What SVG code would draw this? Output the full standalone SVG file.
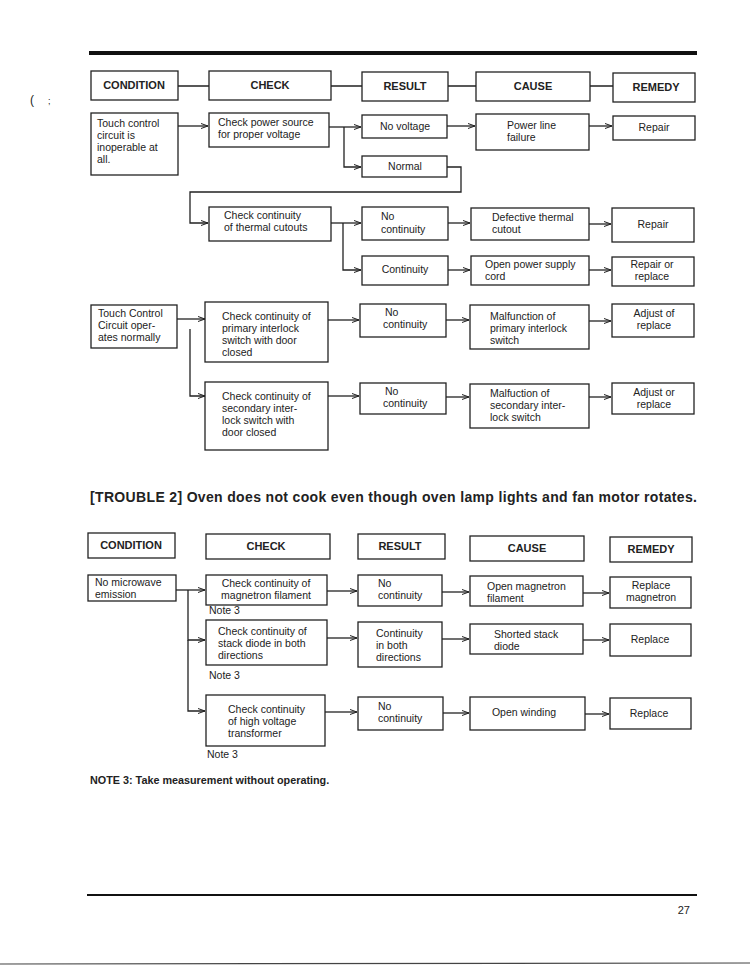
<svg xmlns="http://www.w3.org/2000/svg" width="750" height="970" viewBox="0 0 750 970">
<defs>
<marker id="ah" markerWidth="8" markerHeight="6" refX="7" refY="3" orient="auto" markerUnits="userSpaceOnUse">
<path d="M0,0.5 L7,3 L0,5.5" fill="none" stroke="#222" stroke-width="1"/>
</marker>
</defs>
<style>
rect{fill:#fff;stroke:#222;stroke-width:1.3}
text{font-family:"Liberation Sans",Arial,sans-serif;font-size:10.5px;fill:#222}
.h{font-weight:bold;font-size:11px;text-anchor:middle}
.c{text-anchor:middle}
.ln{fill:none;stroke:#222;stroke-width:1.3}
.ar{fill:none;stroke:#222;stroke-width:1.3;marker-end:url(#ah)}
.t{font-weight:bold;font-size:12px}
</style>
<rect x="0" y="0" width="750" height="970" style="fill:#fff;stroke:none"/>
<line x1="89" y1="53" x2="697" y2="53" stroke="#111" stroke-width="4"/>
<text x="30" y="104" style="font-size:12px">(</text>
<text x="48" y="104" style="font-size:9px">;</text>

<g id="connectors">
<path class="ln" d="M178,86 H209 M331,86 H362 M448,86 H476 M590,86 H613"/>
<path class="ar" d="M178,126 H208"/>
<path class="ar" d="M329,127 H361"/>
<path class="ar" d="M344,127 V167 H361"/>
<path class="ar" d="M447,126 H475"/>
<path class="ar" d="M589,126 H612"/>
<path class="ar" d="M447,167 H461 V192 H190 V223 H208"/>
<path class="ar" d="M331,223 H361"/>
<path class="ar" d="M343,223 V270 H361"/>
<path class="ar" d="M448,223 H470"/>
<path class="ar" d="M589,224 H611"/>
<path class="ar" d="M448,270 H470"/>
<path class="ar" d="M589,270 H611"/>
<path class="ar" d="M177,319 H205"/>
<path class="ar" d="M190,329 V396 H205"/>
<path class="ar" d="M328,320 H359"/>
<path class="ar" d="M446,320 H469"/>
<path class="ar" d="M589,321 H611"/>
<path class="ar" d="M328,396 H359"/>
<path class="ar" d="M446,397 H469"/>
<path class="ar" d="M589,397 H611"/>
<path class="ar" d="M176,590 H205"/>
<path class="ar" d="M188,590 V640 H205"/>
<path class="ar" d="M188,640 V711 H205"/>
<path class="ar" d="M327,591 H357"/>
<path class="ar" d="M442,592 H469"/>
<path class="ar" d="M583,593 H609"/>
<path class="ar" d="M327,638 H357"/>
<path class="ar" d="M442,639 H469"/>
<path class="ar" d="M583,640 H609"/>
<path class="ar" d="M325,712 H357"/>
<path class="ar" d="M443,713 H469"/>
<path class="ar" d="M585,714 H609"/>
</g>

<g id="h1-condition"><rect x="91" y="71" width="87" height="29"/><text class="h" x="134" y="89">CONDITION</text></g>
<g id="h1-check"><rect x="209" y="71" width="122" height="29"/><text class="h" x="270" y="89">CHECK</text></g>
<g id="h1-result"><rect x="362" y="72" width="86" height="29"/><text class="h" x="405" y="90">RESULT</text></g>
<g id="h1-cause"><rect x="476" y="72" width="114" height="29"/><text class="h" x="533" y="90">CAUSE</text></g>
<g id="h1-remedy"><rect x="613" y="73" width="82" height="29"/><text class="h" x="656" y="91">REMEDY</text></g>

<g id="cond1"><rect x="91" y="113" width="87" height="62"/>
<text x="97" y="127">Touch control</text><text x="97" y="139">circuit is</text><text x="97" y="151">inoperable at</text><text x="97" y="163">all.</text></g>
<g id="chk-power"><rect x="209" y="113" width="120" height="34"/>
<text x="218" y="126">Check power source</text><text x="218" y="138">for proper voltage</text></g>
<g id="res-novolt"><rect x="362" y="115" width="85" height="23"/><text class="c" x="405" y="130">No voltage</text></g>
<g id="cause-powerline"><rect x="476" y="114" width="113" height="36"/>
<text x="507" y="129">Power line</text><text x="507" y="141">failure</text></g>
<g id="rem-repair1"><rect x="613" y="116" width="82" height="24"/><text class="c" x="654" y="131">Repair</text></g>
<g id="res-normal"><rect x="362" y="156" width="85" height="21"/><text class="c" x="405" y="170">Normal</text></g>

<g id="chk-thermal"><rect x="209" y="207" width="122" height="34"/>
<text x="224" y="219">Check continuity</text><text x="224" y="231">of thermal cutouts</text></g>
<g id="res-nocont1"><rect x="362" y="207" width="86" height="33"/>
<text x="381" y="220">No</text><text x="381" y="233">continuity</text></g>
<g id="cause-thermal"><rect x="471" y="208" width="118" height="32"/>
<text x="492" y="221">Defective thermal</text><text x="492" y="233">cutout</text></g>
<g id="rem-repair2"><rect x="612" y="208" width="82" height="34"/><text class="c" x="653" y="228">Repair</text></g>
<g id="res-cont"><rect x="362" y="256" width="86" height="29"/><text class="c" x="405" y="273">Continuity</text></g>
<g id="cause-cord"><rect x="471" y="256" width="118" height="29"/>
<text x="485" y="268">Open power supply</text><text x="485" y="280">cord</text></g>
<g id="rem-repairrepl"><rect x="612" y="257" width="82" height="29"/>
<text class="c" x="652" y="268">Repair or</text><text class="c" x="652" y="280">replace</text></g>

<g id="cond2"><rect x="91" y="305" width="86" height="43"/>
<text x="98" y="317">Touch Control</text><text x="98" y="329">Circuit oper-</text><text x="98" y="341">ates normally</text></g>
<g id="chk-primary"><rect x="205" y="302" width="123" height="60"/>
<text x="222" y="320">Check continuity of</text><text x="222" y="332">primary interlock</text><text x="222" y="344">switch with door</text><text x="222" y="356">closed</text></g>
<g id="res-nocont2"><rect x="360" y="304" width="86" height="33"/>
<text x="385" y="316">No</text><text x="383" y="328">continuity</text></g>
<g id="cause-primary"><rect x="470" y="305" width="119" height="44"/>
<text x="490" y="320">Malfunction of</text><text x="490" y="332">primary interlock</text><text x="490" y="344">switch</text></g>
<g id="rem-adjust1"><rect x="612" y="304" width="82" height="33"/>
<text class="c" x="654" y="317">Adjust of</text><text class="c" x="654" y="329">replace</text></g>

<g id="chk-secondary"><rect x="205" y="382" width="123" height="68"/>
<text x="222" y="400">Check continuity of</text><text x="222" y="412">secondary inter-</text><text x="222" y="424">lock switch with</text><text x="222" y="436">door closed</text></g>
<g id="res-nocont3"><rect x="360" y="383" width="86" height="31"/>
<text x="385" y="395">No</text><text x="383" y="407">continuity</text></g>
<g id="cause-secondary"><rect x="470" y="384" width="119" height="44"/>
<text x="490" y="397">Malfuction of</text><text x="490" y="409">secondary inter-</text><text x="490" y="421">lock switch</text></g>
<g id="rem-adjust2"><rect x="612" y="383" width="82" height="31"/>
<text class="c" x="654" y="396">Adjust or</text><text class="c" x="654" y="408">replace</text></g>

<text class="t" x="90" y="502" style="font-size:14px" textLength="607" lengthAdjust="spacing">[TROUBLE 2] Oven does not cook even though oven lamp lights and fan motor rotates.</text>

<g id="h2-condition"><rect x="88" y="533" width="87" height="25"/><text class="h" x="131" y="549">CONDITION</text></g>
<g id="h2-check"><rect x="206" y="534" width="124" height="25"/><text class="h" x="266" y="550">CHECK</text></g>
<g id="h2-result"><rect x="358" y="534" width="87" height="25"/><text class="h" x="400" y="550">RESULT</text></g>
<g id="h2-cause"><rect x="470" y="536" width="114" height="25"/><text class="h" x="527" y="552">CAUSE</text></g>
<g id="h2-remedy"><rect x="610" y="537" width="82" height="25"/><text class="h" x="651" y="553">REMEDY</text></g>

<g id="cond3"><rect x="88" y="575" width="88" height="26"/>
<text x="95" y="586">No microwave</text><text x="95" y="598">emission</text></g>
<g id="chk-magnetron"><rect x="206" y="575" width="121" height="30"/>
<text class="c" x="266" y="587">Check continuity of</text><text class="c" x="266" y="599">magnetron filament</text></g>
<text x="209" y="614">Note 3</text>
<g id="res-nocont4"><rect x="358" y="575" width="84" height="31"/>
<text x="378" y="587">No</text><text x="378" y="599">continuity</text></g>
<g id="cause-magnetron"><rect x="470" y="576" width="113" height="30"/>
<text x="487" y="590">Open magnetron</text><text x="487" y="602">filament</text></g>
<g id="rem-replmag"><rect x="610" y="577" width="81" height="31"/>
<text class="c" x="651" y="589">Replace</text><text class="c" x="651" y="601">magnetron</text></g>

<g id="chk-diode"><rect x="206" y="620" width="121" height="45"/>
<text x="218" y="635">Check continuity of</text><text x="218" y="647">stack diode in both</text><text x="218" y="659">directions</text></g>
<text x="209" y="679">Note 3</text>
<g id="res-both"><rect x="358" y="622" width="84" height="45"/>
<text x="376" y="637">Continuity</text><text x="376" y="649">in both</text><text x="376" y="661">directions</text></g>
<g id="cause-diode"><rect x="470" y="624" width="113" height="30"/>
<text x="494" y="638">Shorted stack</text><text x="494" y="650">diode</text></g>
<g id="rem-repl2"><rect x="610" y="624" width="81" height="32"/><text class="c" x="650" y="643">Replace</text></g>

<g id="chk-hvt"><rect x="206" y="695" width="119" height="51"/>
<text x="228" y="713">Check continuity</text><text x="228" y="725">of high voltage</text><text x="228" y="737">transformer</text></g>
<text x="207" y="758">Note 3</text>
<g id="res-nocont5"><rect x="358" y="697" width="85" height="33"/>
<text x="378" y="710">No</text><text x="378" y="722">continuity</text></g>
<g id="cause-winding"><rect x="470" y="697" width="115" height="33"/><text class="c" x="524" y="716">Open winding</text></g>
<g id="rem-repl3"><rect x="610" y="698" width="81" height="31"/><text class="c" x="649" y="717">Replace</text></g>

<text class="t" x="90" y="784" style="font-size:10.8px">NOTE 3: Take measurement without operating.</text>

<line x1="87" y1="895" x2="697" y2="895" stroke="#111" stroke-width="2"/>
<text x="690" y="914" style="text-anchor:end;font-size:11px">27</text>
<line x1="0" y1="964" x2="750" y2="963" stroke="#444" stroke-width="1.2"/>
</svg>
